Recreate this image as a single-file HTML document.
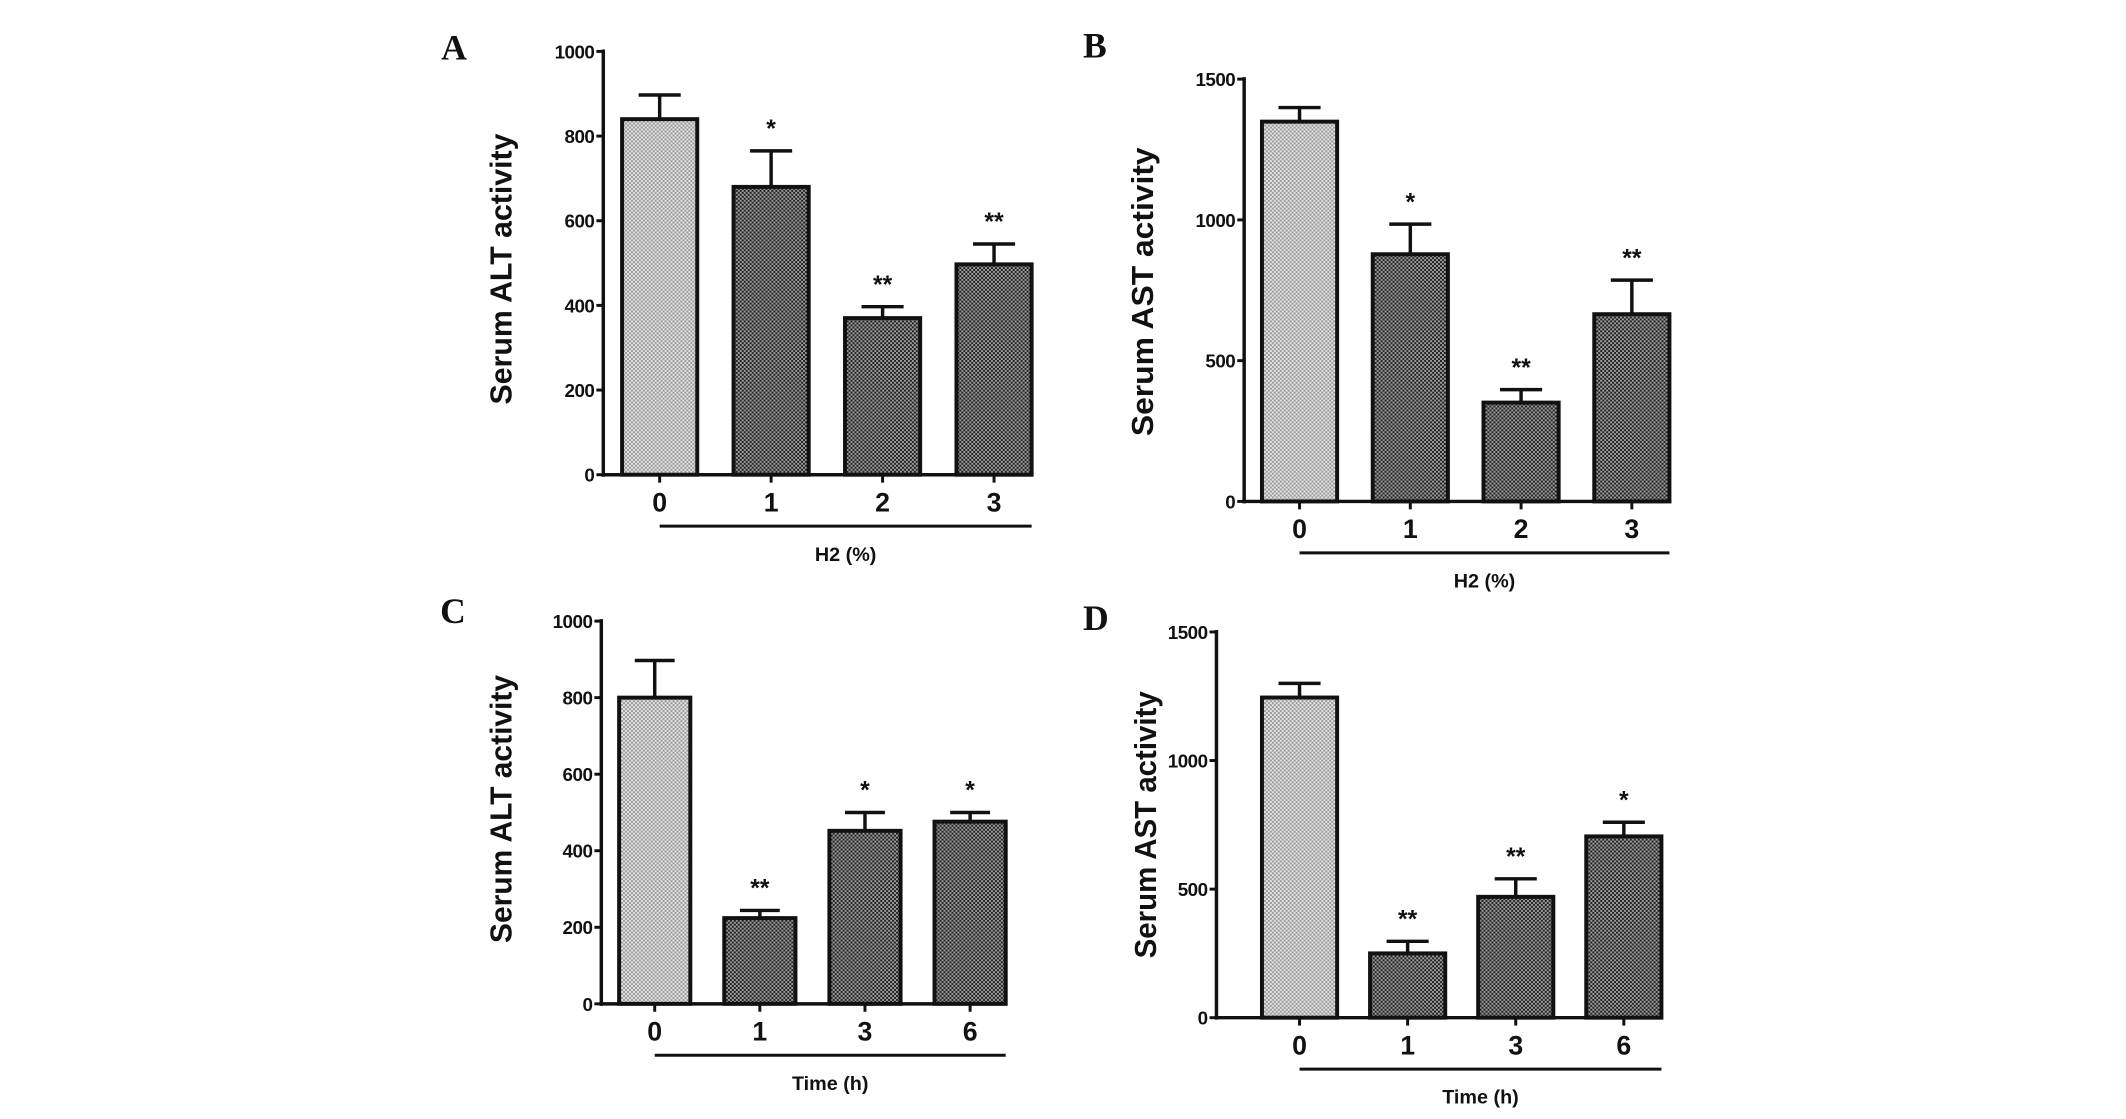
<!DOCTYPE html>
<html><head><meta charset="utf-8"><style>
html,body{margin:0;padding:0;background:#fff;overflow:hidden}
svg{display:block}
text{font-family:"Liberation Sans",Arial,sans-serif;font-weight:bold;fill:#111}
.lt{font-family:"Liberation Serif","Times New Roman",serif;font-size:36px}
</style></head><body>
<svg width="2126" height="1119" viewBox="0 0 2126 1119">
<defs>
<pattern id="pl" width="4" height="4" patternUnits="userSpaceOnUse"><rect width="4" height="4" fill="#e4e4e4"/><rect width="2" height="2" fill="#999"/><rect x="2" y="2" width="2" height="2" fill="#999"/></pattern>
<pattern id="pd" width="4" height="4" patternUnits="userSpaceOnUse"><rect width="4" height="4" fill="#9a9a9a"/><rect width="2" height="2" fill="#222"/><rect x="2" y="2" width="2" height="2" fill="#222"/></pattern>
</defs>
<g id="fig" transform="scale(0.989)"></g>
</svg>
<script>
// Panel A
const catsA=["0","1","2","3"];
const valsA=[840,680,370,497];
const errA=[897,765,397,545];
const starsA=["","*","**","**"];
const ticksA=[0,200,400,600,800,1000];
// Panel B
const catsB=["0","1","2","3"];
const valsB=[1349,878,351,665];
const errB=[1399,985,397,786];
const starsB=["","*","**","**"];
const ticksB=[0,500,1000,1500];
// Panel C
const catsC=["0","1","3","6"];
const valsC=[800,224,452,476];
const errC=[897,244,500,500];
const starsC=["","**","*","*"];
const ticksC=[0,200,400,600,800,1000];
// Panel D
const catsD=["0","1","3","6"];
const valsD=[1245,250,470,705];
const errD=[1300,297,540,760];
const starsD=["","**","**","*"];
const ticksD=[0,500,1000,1500];

const NS="http://www.w3.org/2000/svg";
const svg=document.getElementById('fig');
function mk(tag,attrs,parent,txt){const e=document.createElementNS(NS,tag);for(const k in attrs)e.setAttribute(k,attrs[k]);if(txt!==undefined)e.textContent=txt;(parent||svg).appendChild(e);return e;}

function panel(id,letter,g,cats,vals,errs,stars,ticks,ytitle,xtitle){
  const grp=mk('g',{});
  
  
  const ymax=ticks[ticks.length-1];
  const Y=v=>g.y0-(v/ymax)*(g.y0-g.yt);
  const X=i=>g.bl+i*g.step;
  let t=mk('text',{x:g.lx,y:g.ly,class:'lt'},grp,letter);
  
  
  t=mk('text',{x:0,y:0,'font-size':'31','text-anchor':'middle',transform:`translate(${g.ytx},${g.ytc}) rotate(-90)`,textLength:g.ytl,lengthAdjust:'spacingAndGlyphs'},grp,ytitle);
  
  
  cats.forEach((c,i)=>{
    const x=X(i),y=Y(vals[i]),cx=x+g.bw/2,ye=Y(errs[i]);
    let e=mk('line',{x1:cx,x2:cx,y1:y,y2:ye,stroke:'#111','stroke-width':3.5},grp);
    
    
    mk('line',{x1:cx-g.bw*0.28,x2:cx+g.bw*0.28,y1:ye,y2:ye,stroke:'#111','stroke-width':3.5},grp);
    let b=mk('rect',{x:x,y:y,width:g.bw,height:g.y0-y,fill:i===0?'url(#pl)':'url(#pd)',stroke:'#111','stroke-width':4},grp);
    
    
    if(stars[i]){let s=mk('text',{x:cx,y:ye-14,'font-size':'25','text-anchor':'middle'},grp,stars[i]);
      
      }
    mk('line',{x1:cx,x2:cx,y1:g.y0,y2:g.y0+8,stroke:'#111','stroke-width':3},grp);
    let l=mk('text',{x:cx,y:g.y0+37,'font-size':'27','text-anchor':'middle'},grp,c);
    
    
  });
  let a=mk('line',{x1:g.ax,x2:g.ax,y1:g.yt-2,y2:g.y0+2,stroke:'#111','stroke-width':3.5},grp);
  
  
  a=mk('line',{x1:g.ax-2,x2:g.xr,y1:g.y0,y2:g.y0,stroke:'#111','stroke-width':3.5},grp);
  
  
  ticks.forEach(v=>{
    mk('line',{x1:g.ax-7,x2:g.ax,y1:Y(v),y2:Y(v),stroke:'#111','stroke-width':3},grp);
    let tl=mk('text',{x:g.ax-9,y:Y(v)+7,'font-size':'19','text-anchor':'end','letter-spacing':'-0.5'},grp,String(v));
    
    
  });
  const c0=X(0)+g.bw/2,c3=X(cats.length-1)+g.bw;
  let gl=mk('line',{x1:c0,x2:c3,y1:g.y0+52,y2:g.y0+52,stroke:'#111','stroke-width':3},grp);
  
  
  let xt=mk('text',{x:(c0+c3)/2,y:g.y0+87,'font-size':'20','text-anchor':'middle'},grp,xtitle);
  
  
}

panel('a','A',{lx:446,ly:60,ytx:517,ytc:272,ytl:274,ax:610,y0:480,yt:52,xr:1045,bl:629,bw:76,step:112.7},catsA,valsA,errA,starsA,ticksA,'Serum ALT activity','H2 (%)');
panel('b','B',{lx:1095,ly:58,ytx:1166,ytl:292,ytc:295,ax:1258,y0:507,yt:80,xr:1690,bl:1276,bw:76,step:112},catsB,valsB,errB,starsB,ticksB,'Serum AST activity','H2 (%)');
panel('c','C',{lx:445,ly:630,ytx:517,ytl:271,ytc:818,ax:608,y0:1015,yt:628,xr:1015,bl:626,bw:72,step:106.3},catsC,valsC,errC,starsC,ticksC,'Serum ALT activity','Time (h)');
panel('d','D',{lx:1095,ly:637,ytx:1169,ytl:270,ytc:834,ax:1230,y0:1029,yt:639,xr:1676,bl:1276,bw:76,step:109.3},catsD,valsD,errD,starsD,ticksD,'Serum AST activity','Time (h)');
</script>
</body></html>
